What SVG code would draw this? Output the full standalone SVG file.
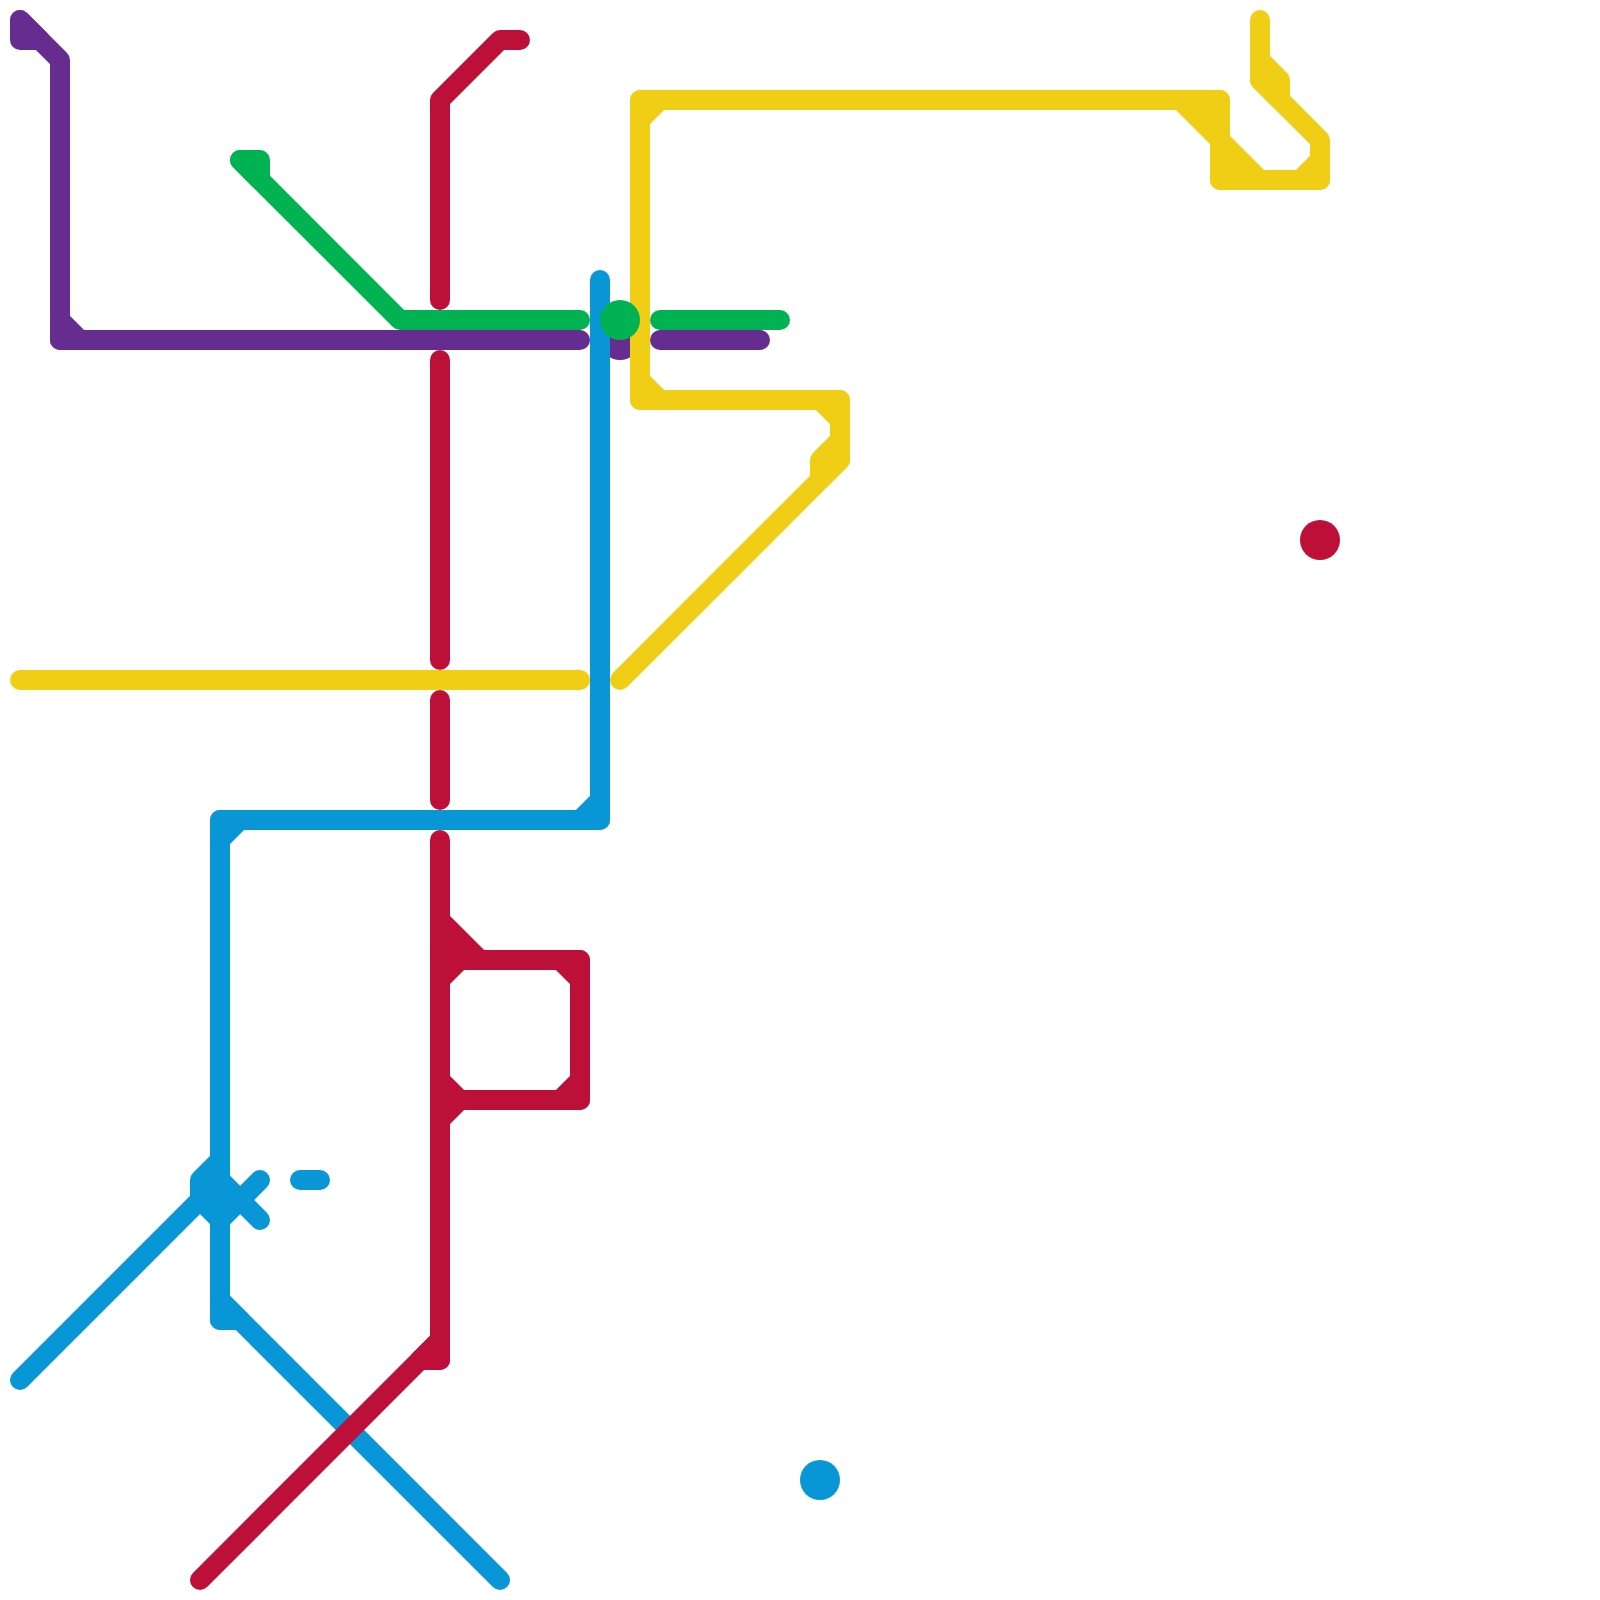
<svg xmlns="http://www.w3.org/2000/svg" width="1600" height="1600" viewBox="0 0 1600 1600">
<style>
path{fill:none;stroke-width:20;stroke-linecap:round;stroke-linejoin:round}
.purple{stroke:#662c90}.green{stroke:#00b251}.red{stroke:#bd1038}.blue{stroke:#0896d7}.yellow{stroke:#f0ce15}
.solid.purple{fill:#662c90}.solid.green{fill:#00b251}.solid.red{fill:#bd1038}.solid.blue{fill:#0896d7}.solid.yellow{fill:#f0ce15}
.st-purple{fill:#662c90}.st-green{fill:#00b251}.st-red{fill:#bd1038}.st-blue{fill:#0896d7}
</style>
<g id="node-purple-centre"><circle class="st-purple" cx="620" cy="340" r="20"/></g>
<g id="connectors">
<g id="line-purple">
<path class="purple solid" d="M20 20L20 40L40 40Z"/>
<path class="purple" d="M20 20L60 60L60 340L580 340"/>
<path class="purple solid" d="M60 320L80 340L60 340Z"/>
<path class="purple" d="M660 340L760 340"/>
</g>
<g id="line-green">
<path class="green solid" d="M240 160L260 160L260 180Z"/>
<path class="green" d="M240 160L400 320L580 320"/>
<path class="green" d="M660 320L780 320"/>
</g>
<g id="line-blue">
<path class="blue" d="M600 280L600 820L220 820L220 1320L240 1320"/>
<path class="blue solid" d="M580 820L600 800L600 820Z"/>
<path class="blue solid" d="M220 840L240 820L220 820Z"/>
<path class="blue solid" d="M220 1300L240 1320L220 1320Z"/>
<path class="blue" d="M220 1300L500 1580"/>
<path class="blue solid" d="M220 1160L200 1180L200 1200L220 1220L240 1200L220 1180Z"/>
<path class="blue" d="M20 1380L220 1180L260 1220"/>
<path class="blue" d="M220 1220L260 1180"/>
<path class="blue" d="M300 1180L320 1180"/>
</g>
<g id="line-yellow">
<path class="yellow" d="M20 680L580 680"/>
<path class="yellow" d="M620 680L840 460L840 400L640 400L640 100L1220 100L1220 180L1320 180L1320 140L1260 80L1260 20"/>
<path class="yellow solid" d="M640 120L660 100L640 100Z"/>
<path class="yellow solid" d="M640 380L660 400L640 400Z"/>
<path class="yellow solid" d="M820 400L840 420L840 400Z"/>
<path class="yellow solid" d="M840 440L820 460L820 480L840 460Z"/>
<path class="yellow solid" d="M1180 100L1260 180L1220 180L1220 100Z"/>
<path class="yellow solid" d="M1320 160L1300 180L1320 180Z"/>
<path class="yellow solid" d="M1260 60L1280 80L1280 100L1260 80Z"/>
</g>
<g id="line-red">
<path class="red" d="M520 40L500 40L440 100L440 300"/>
<path class="red" d="M440 360L440 660"/>
<path class="red" d="M440 700L440 800"/>
<path class="red" d="M440 840L440 1360L420 1360"/>
<path class="red solid" d="M440 1340L440 1360L420 1360Z"/>
<path class="red" d="M440 1340L200 1580"/>
<path class="red solid" d="M440 920L480 960L440 960Z"/>
<path class="red solid" d="M440 980L460 960L440 960Z"/>
<path class="red" d="M440 960L580 960L580 1100L440 1100"/>
<path class="red solid" d="M560 960L580 980L580 960Z"/>
<path class="red solid" d="M580 1080L560 1100L580 1100Z"/>
<path class="red solid" d="M440 1080L460 1100L440 1120Z"/>
</g>
</g>
<g id="node-green-centre"><circle class="st-green" cx="620" cy="320" r="20"/></g>
<g id="node-red-east"><circle class="st-red" cx="1320" cy="540" r="20"/></g>
<g id="node-blue-south"><circle class="st-blue" cx="820" cy="1480" r="20"/></g>
</svg>
